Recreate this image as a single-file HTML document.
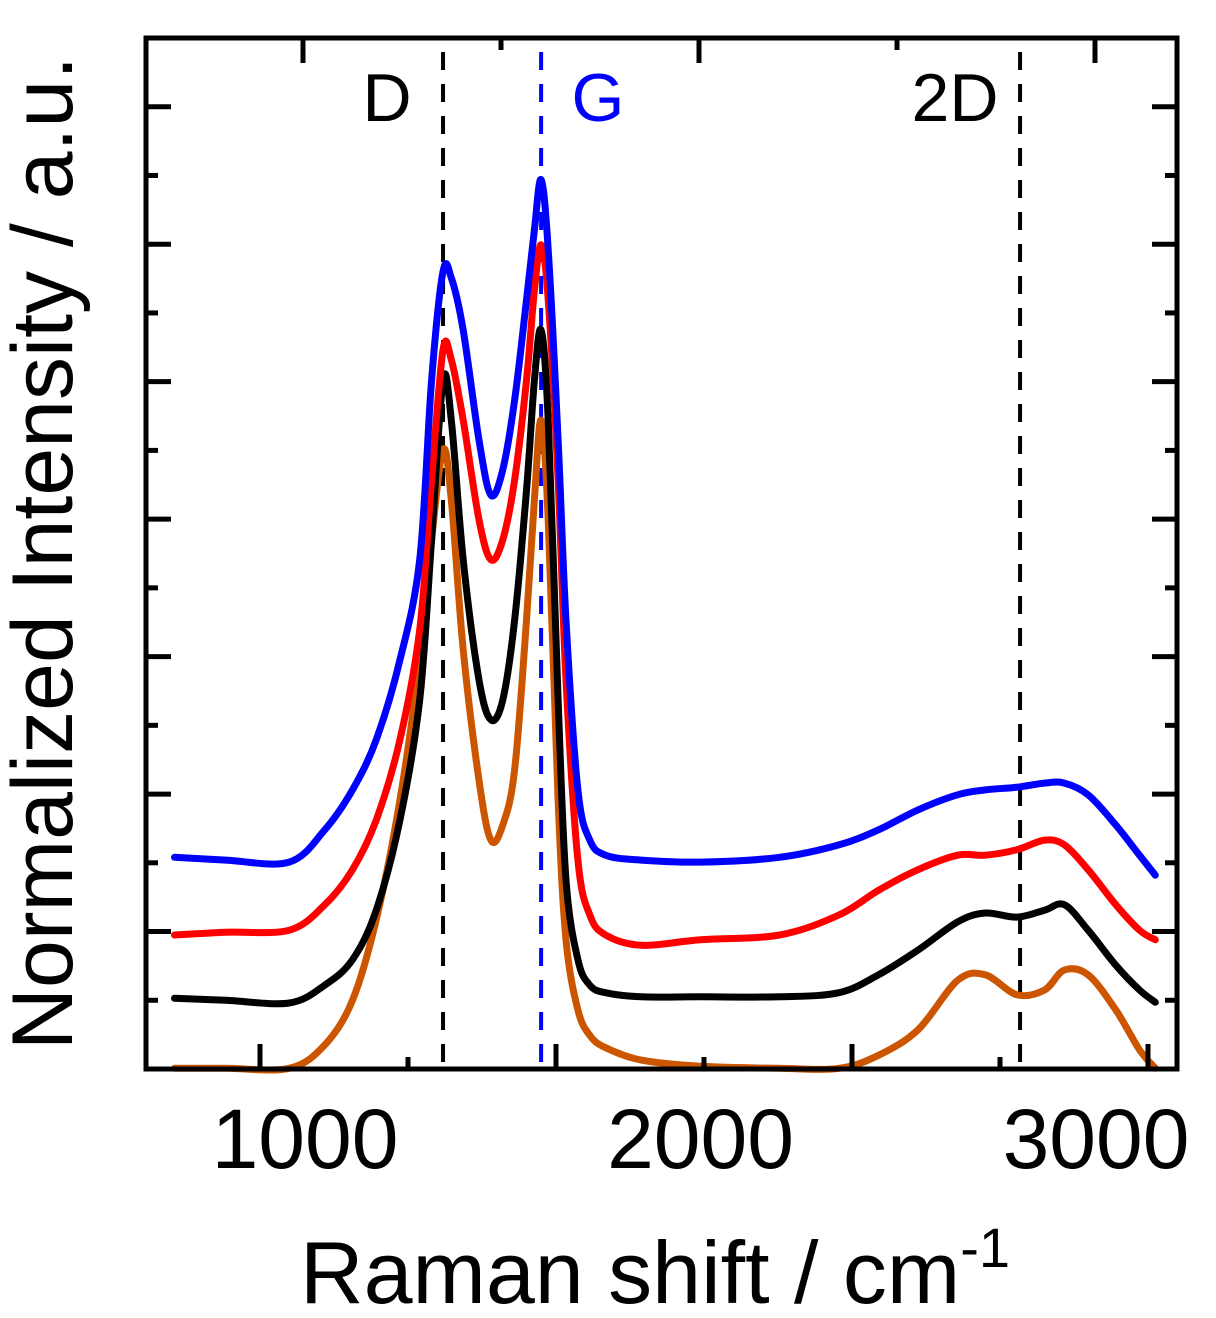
<!DOCTYPE html>
<html><head><meta charset="utf-8"><style>
body{margin:0;background:#fff;}
svg{display:block;font-family:"Liberation Sans",Arial,sans-serif;}
</style></head><body>
<svg id="chart" width="1216" height="1318" viewBox="0 0 1216 1318">
<rect x="0" y="0" width="1216" height="1318" fill="#fff"/>
<g id="marks"></g>
<g id="axes"></g>
<text transform="translate(72,553) rotate(-90)" text-anchor="middle" font-size="86">Normalized Intensity / a.u.</text>
<text x="655" y="1303" text-anchor="middle" font-size="88">Raman shift / cm<tspan font-size="56" dy="-36">-1</tspan></text>
</svg>
<script>
const ramanShift=[670,800,960,1050,1120,1180,1240,1290,1320,1349,1370,1400,1440,1470,1500,1530,1560,1580,1597,1615,1640,1660,1690,1720,1760,1850,2000,2200,2350,2450,2550,2650,2720,2800,2870,2920,2980,3050,3110,3150];
const blueSeries=[3.08,3.04,3.01,3.48,4.06,4.79,5.95,7.41,10.02,11.6,11.51,10.75,9.15,8.35,8.72,9.73,11.19,12.21,12.94,11.92,9.15,6.53,4.06,3.33,3.11,3.04,3.01,3.08,3.26,3.48,3.77,3.99,4.06,4.10,4.16,4.16,3.99,3.55,3.11,2.82];
const redSeries=[1.95,1.99,2.02,2.39,2.90,3.62,4.79,6.39,8.57,10.46,10.32,9.44,7.99,7.41,7.70,8.57,10.02,11.33,11.99,11.19,8.57,5.66,3.04,2.24,1.95,1.80,1.88,1.95,2.24,2.60,2.90,3.11,3.11,3.19,3.33,3.26,2.90,2.39,2.02,1.88];
const blackSeries=[1.03,1.00,0.96,1.22,1.59,2.31,3.62,5.37,7.70,10.02,9.44,7.41,5.66,5.08,5.37,6.53,8.42,10.02,10.75,9.44,5.37,2.75,1.59,1.22,1.11,1.05,1.05,1.05,1.11,1.37,1.73,2.14,2.27,2.21,2.31,2.39,2.02,1.51,1.15,0.97];
const orangeSeries=[0.01,0.01,0.01,0.35,1.00,2.17,3.91,5.95,7.70,9.01,8.28,6.10,4.20,3.33,3.55,4.35,6.53,8.28,9.44,7.99,3.91,1.88,0.86,0.49,0.31,0.13,0.04,0.01,0.01,0.20,0.57,1.29,1.37,1.08,1.15,1.44,1.37,0.86,0.28,0.01];
const peakPositions=[1349,1597,2808];
const peakLabels=["D","G","2D"];
const xTickValues=[1000,2000,3000];
const yMin=0,yMax=15;

const NS="http://www.w3.org/2000/svg";
const L=146,R=1177,T=38,B=1069;
function xs(v){return 305+(v-1000)*0.3955;}
function ys(v){return B-(v-yMin)/(yMax-yMin)*(B-T);}
function mk(tag,attrs,parent){const e=document.createElementNS(NS,tag);for(const k in attrs)e.setAttribute(k,attrs[k]);parent.appendChild(e);return e;}
const marks=document.getElementById('marks'),axes=document.getElementById('axes');

function pathFor(ser){
  const p=ramanShift.map((v,i)=>[xs(v),ys(ser[i])]);
  let d="M"+p[0][0].toFixed(1)+","+p[0][1].toFixed(1);
  for(let i=0;i<p.length-1;i++){
    const p0=p[Math.max(0,i-1)],p1=p[i],p2=p[i+1],p3=p[Math.min(p.length-1,i+2)];
    const c1x=p1[0]+(p2[0]-p0[0])/6,c1y=p1[1]+(p2[1]-p0[1])/6;
    const c2x=p2[0]-(p3[0]-p1[0])/6,c2y=p2[1]-(p3[1]-p1[1])/6;
    d+=` C${c1x.toFixed(1)},${c1y.toFixed(1)} ${c2x.toFixed(1)},${c2y.toFixed(1)} ${p2[0].toFixed(1)},${p2[1].toFixed(1)}`;
  }
  return d;
}
const lineColors=["#000","#0000ff","#000"];
peakPositions.forEach((v,i)=>{
  const ln=mk('line',{x1:xs(v),x2:xs(v),y1:52,y2:B,stroke:lineColors[i],'stroke-width':4,'stroke-dasharray':'18,14'},marks);
  
  
});
const labelX=[387,598,955];
peakLabels.forEach((t,i)=>{
  const tx=mk('text',{x:labelX[i],y:121,'text-anchor':'middle','font-size':68,fill:lineColors[i]},marks);
  tx.textContent=t;
  
  
});
const seriesList=[[orangeSeries,"#cc5500","orange"],[blackSeries,"#000000","black"],[redSeries,"#ff0000","red"],[blueSeries,"#0000ff","blue"]];
seriesList.forEach(s=>{
  const pth=mk('path',{d:pathFor(s[0]),fill:'none',stroke:s[1],'stroke-width':7,'stroke-linejoin':'round','stroke-linecap':'round'},marks);
  
  
});
const fr=mk('rect',{x:L,y:T,width:R-L,height:B-T,fill:'none',stroke:'#000','stroke-width':5},axes);


for(let v=1;v<yMax;v++){
  const y=ys(v),len=(v%2==0)?25:12;
  mk('line',{x1:L,x2:L+len,y1:y,y2:y,stroke:'#000','stroke-width':5},axes);
  mk('line',{x1:R,x2:R-len,y1:y,y2:y,stroke:'#000','stroke-width':5},axes);
}
[260,408,556,704,852,1000,1148].forEach((x,i)=>{
  const len=i%2==0?25:12;
  mk('line',{x1:x,x2:x,y1:B,y2:B-len,stroke:'#000','stroke-width':5},axes);
});
[303,501,699,897,1095].forEach((x,i)=>{
  const len=i%2==0?25:12;
  mk('line',{x1:x,x2:x,y1:T,y2:T+len,stroke:'#000','stroke-width':5},axes);
});
xTickValues.forEach(v=>{
  const t=mk('text',{x:xs(v),y:1168,'text-anchor':'middle','font-size':84},axes);
  t.textContent=v;
  
  
});
</script>
</body></html>
